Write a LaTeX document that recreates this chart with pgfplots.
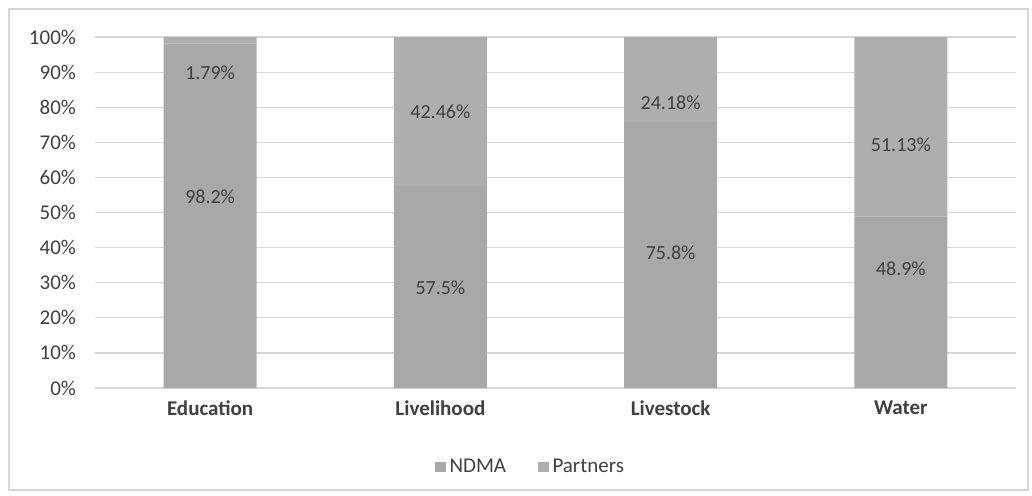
\documentclass[border=0pt]{standalone}
\usepackage{pgfplots}
\pgfplotsset{compat=1.18}
\usepackage{fontspec}
\setmainfont{Carlito}
\definecolor{ndma}{HTML}{A8A8A8}
\definecolor{partners}{HTML}{AEAEAE}
\definecolor{txt}{HTML}{404040}
\definecolor{grid}{HTML}{D6D6D6}
\tikzset{dl/.style={font=\fontsize{10}{12}\selectfont, text=txt}}
\begin{document}
\begin{tikzpicture}
\useasboundingbox (0,0) rectangle (516pt,247.5pt);
\draw[color=grid, line width=0.6pt] (4.5pt,2.5pt) rectangle (514pt,243pt);
\begin{axis}[
  at={(47.5pt,53.5pt)}, anchor=south west,
  scale only axis, width=460.5pt, height=175.5pt,
  ybar stacked, bar width=46.5pt,
  xmin=-0.5, xmax=3.5, ymin=0, ymax=100,
  xtick={0,1,2,3},
  xticklabels={Education,Livelihood,Livestock,Water},
  x tick label style={font=\fontsize{10.5}{12}\selectfont\bfseries, text=txt, yshift=-3pt},
  ytick={0,10,20,30,40,50,60,70,80,90,100},
  yticklabels={0\%,10\%,20\%,30\%,40\%,50\%,60\%,70\%,80\%,90\%,100\%},
  y tick label style={font=\fontsize{10.5}{12}\selectfont, text=txt, xshift=-6pt},
  major tick length=0pt,
  axis line style={draw=none},
  ymajorgrids, grid style={color=grid, line width=0.6pt},
  legend style={at={(0.474,-0.225)}, anchor=center, draw=none, fill=none,
    legend columns=2, font=\fontsize{10.5}{12}\selectfont, text=txt,
    /tikz/every even column/.append style={column sep=14pt}},
  legend image code/.code={\fill[#1] (0pt,-2.6pt) rectangle (5.2pt,2.6pt);},
  clip=false,
]
\addplot[fill=ndma, draw=none] coordinates {(0,98.21) (1,57.54) (2,75.82) (3,48.87)};
\addplot[fill=partners, draw=none] coordinates {(0,1.79) (1,42.46) (2,24.18) (3,51.13)};
\legend{NDMA,Partners}
\end{axis}
\begin{axis}[
  at={(47.5pt,53.5pt)}, anchor=south west,
  scale only axis, width=460.5pt, height=175.5pt,
  xmin=-0.5, xmax=3.5, ymin=0, ymax=100,
  hide axis, clip=false,
]
\node[dl] at (axis cs:0,89.7) {1.79\%};
\node[dl] at (axis cs:0,54.4) {98.2\%};
\node[dl] at (axis cs:1,78.6) {42.46\%};
\node[dl] at (axis cs:1,28.5) {57.5\%};
\node[dl] at (axis cs:2,81.2) {24.18\%};
\node[dl] at (axis cs:2,38.5) {75.8\%};
\node[dl] at (axis cs:3,69.2) {51.13\%};
\node[dl] at (axis cs:3,33.9) {48.9\%};
\end{axis}
\end{tikzpicture}
\end{document}
